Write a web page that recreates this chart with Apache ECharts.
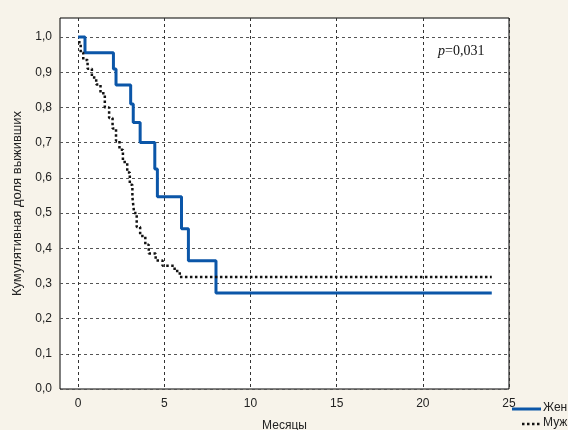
<!DOCTYPE html>
<html>
<head>
<meta charset="utf-8">
<script src="https://cdn.jsdelivr.net/npm/echarts@6/dist/echarts.min.js"></script>
<style>
  html, body { margin: 0; padding: 0; background: #f7f3ea; }
</style>
</head>
<body>
<div id="kmChart" style="width:568px;height:430px;"></div>
<script>
// Kaplan-Meier: время (месяцы) и кумулятивная доля выживших
var femaleTime = [0, 0.4, 2.05, 2.2, 3.05, 3.2, 3.6, 4.45, 4.6, 6.0, 6.4, 8.0, 24];
var femaleSurv = [1.0, 0.955, 0.909, 0.864, 0.81, 0.757, 0.70, 0.625, 0.546, 0.455, 0.364, 0.273, 0.273];

var maleTime = [0, 0.15, 0.3, 0.55, 0.8, 1.05, 1.3, 1.55, 1.8, 2.0, 2.2, 2.4, 2.6, 2.85, 3.0, 3.15, 3.25, 3.4, 3.6, 3.9, 4.1, 4.5, 4.9, 5.6, 5.9, 24];
var maleSurv = [0.985, 0.955, 0.935, 0.91, 0.885, 0.865, 0.84, 0.80, 0.77, 0.74, 0.705, 0.68, 0.645, 0.615, 0.58, 0.545, 0.50, 0.46, 0.435, 0.41, 0.385, 0.365, 0.35, 0.335, 0.318, 0.318];

var xTicks = [0, 5, 10, 15, 20, 25];
var yTicks = [0, 0.1, 0.2, 0.3, 0.4, 0.5, 0.6, 0.7, 0.8, 0.9, 1.0];

function pairs(xs, ys) {
  return xs.map(function(x, i) { return [x, ys[i]]; });
}

var font = 'Liberation Sans, Arial, sans-serif';
var chart = echarts.init(document.getElementById('kmChart'));

var option = {
  animation: false,
  backgroundColor: '#f7f3ea',
  textStyle: { fontFamily: font },
  grid: {
    left: 60,
    right: 59,
    top: 18,
    bottom: 41,
    outerBoundsMode: 'none',
    containLabel: false,
    show: true,
    backgroundColor: '#fff',
    borderColor: '#000',
    borderWidth: 1
  },
  xAxis: {
    type: 'value',
    min: -1.05,
    max: 25,
    name: 'Месяцы',
    nameLocation: 'middle',
    nameGap: 31,
    nameTextStyle: { fontFamily: font, fontSize: 12, color: '#222' },
    axisLine: { show: false },
    axisTick: { show: false, customValues: xTicks },
    axisLabel: {
      customValues: xTicks,
      color: '#222',
      fontSize: 12,
      margin: 9,
      fontFamily: font
    },
    splitLine: {
      show: true,
      lineStyle: { type: [3, 3], color: '#333', width: 1 }
    }
  },
  yAxis: {
    type: 'value',
    min: 0,
    max: 1.054,
    name: 'Кумулятивная доля выживших',
    nameLocation: 'middle',
    nameGap: 33,
    nameTextStyle: { fontFamily: font, fontSize: 13, color: '#222' },
    axisLine: { show: false },
    axisTick: { show: false, customValues: yTicks },
    axisLabel: {
      customValues: yTicks,
      color: '#222',
      fontSize: 12,
      margin: 8,
      fontFamily: font,
      formatter: function(v) { return v.toFixed(1).replace('.', ','); }
    },
    splitLine: {
      show: true,
      lineStyle: { type: [3, 3], color: '#555', width: 1 }
    }
  },
  graphic: [
    {
      type: 'text',
      left: 438,
      top: 44,
      style: {
        text: '{i|p}=0,031',
        font: '14px Liberation Serif, Times New Roman, serif',
        fill: '#111',
        rich: {
          i: { fontStyle: 'italic', fontFamily: 'Liberation Serif, serif', fontSize: 14, fill: '#111' }
        }
      }
    },
    // легенда
    {
      type: 'line',
      shape: { x1: 512, y1: 409, x2: 541, y2: 409 },
      style: { stroke: '#0b56a8', lineWidth: 3 }
    },
    {
      type: 'text',
      left: 543,
      top: 402,
      style: { text: 'Жен', font: '12px Liberation Sans, Arial, sans-serif', fill: '#222' }
    },
    {
      type: 'line',
      shape: { x1: 522, y1: 424, x2: 541, y2: 424 },
      style: { stroke: '#111', lineWidth: 2.5, lineDash: [2.5, 2.5] }
    },
    {
      type: 'text',
      left: 543,
      top: 417,
      style: { text: 'Муж', font: '12px Liberation Sans, Arial, sans-serif', fill: '#222' }
    }
  ],
  series: [
    {
      name: 'Жен',
      type: 'line',
      step: 'end',
      symbol: 'none',
      color: '#0b56a8',
      lineStyle: { color: '#0b56a8', width: 3 },
      data: pairs(femaleTime, femaleSurv)
    },
    {
      name: 'Муж',
      type: 'line',
      step: 'end',
      symbol: 'none',
      color: '#111',
      lineStyle: { color: '#111', width: 2.5, type: [2.5, 2.5] },
      data: pairs(maleTime, maleSurv)
    }
  ]
};

chart.setOption(option);
</script>
</body>
</html>
